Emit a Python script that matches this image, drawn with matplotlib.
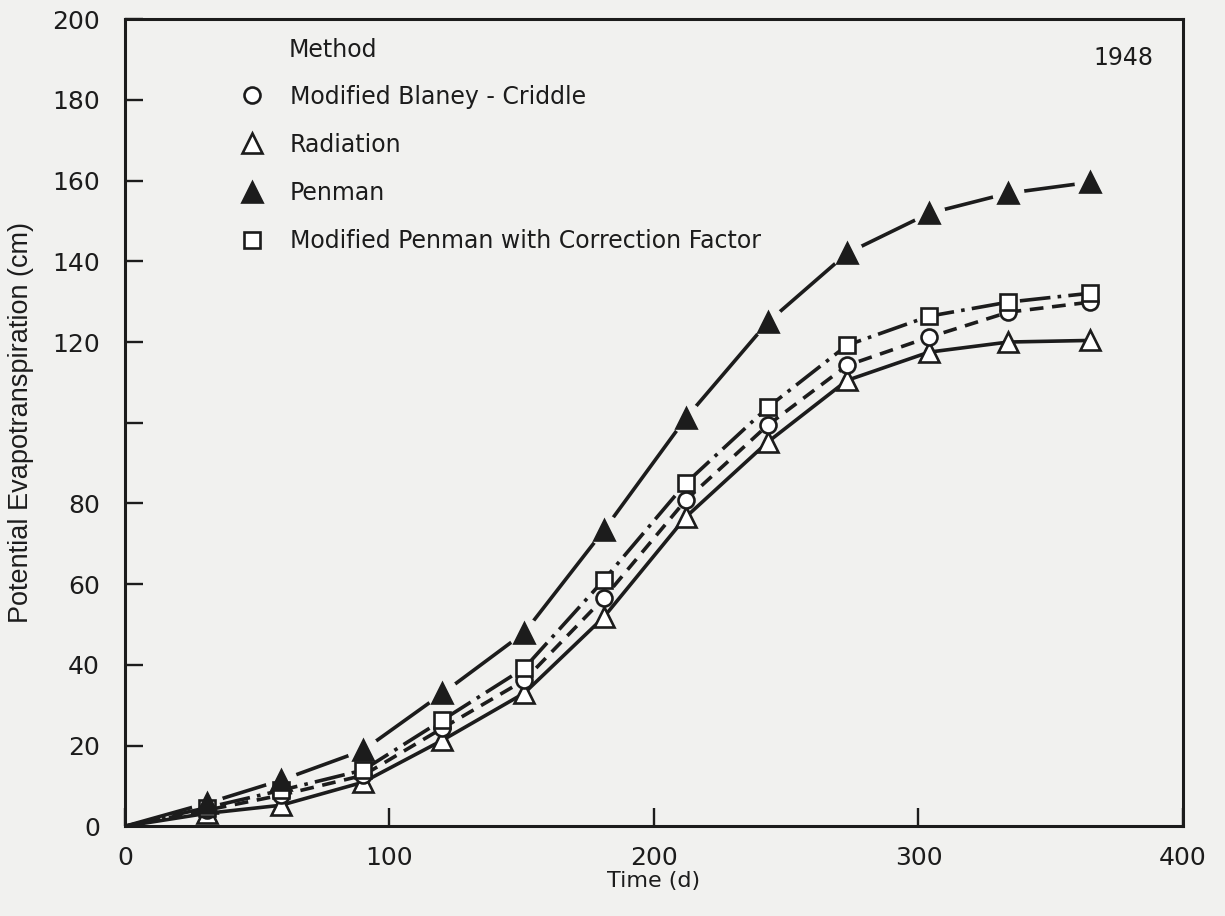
import numpy as np
import matplotlib
matplotlib.use("Agg")
import matplotlib.pyplot as plt
from matplotlib.lines import Line2D

# cumulative potential evapotranspiration, end of each month (1948)
days = [0, 31, 59, 90, 120, 151, 181, 212, 243, 273, 304, 334, 365]
blaney = [0, 4.0, 7.7, 12.6, 24.3, 36.2, 56.5, 80.8, 99.4, 114.2, 121.2, 127.4, 129.9]
radiation = [0, 3.2, 5.2, 10.9, 21.3, 33.0, 51.8, 76.6, 95.2, 110.5, 117.5, 120.0, 120.4]
penman = [0, 5.7, 11.4, 18.8, 32.9, 48.0, 73.3, 101.1, 124.9, 142.0, 151.9, 156.9, 159.6]
mod_penman = [0, 4.6, 8.9, 13.9, 26.3, 39.2, 61.0, 85.0, 103.8, 119.2, 126.4, 129.9, 132.1]

xticks = [0, 100, 200, 300, 400]
yticks = [0, 20, 40, 60, 80, 100, 120, 140, 160, 180, 200]
ytick_labels = ["0", "20", "40", "60", "80", "", "120", "140", "160", "180", "200"]

ink = "#1c1c1c"
bg = "#f1f1ef"
plt.rcParams["font.family"] = "DejaVu Sans"

fig = plt.figure(figsize=(12.25, 9.16), dpi=100, facecolor=bg)
ax = fig.add_axes([0.102, 0.098, 0.8637, 0.881], facecolor=bg)

lw = 2.6
mew = 1.9
pts = slice(1, None)

# Penman: line broken around each marker
ax.plot(days, penman, color=ink, lw=lw, zorder=2, solid_capstyle="butt")
ax.plot(days, penman, ls="none", marker="o", ms=22, mfc=bg, mec=bg,
        markevery=pts, zorder=2.5)
ax.plot(days, radiation, color=ink, lw=lw, zorder=3)
ax.plot(days, blaney, color=ink, lw=lw, ls=(0, (3.8, 2.4)), zorder=3)
ax.plot(days, mod_penman, color=ink, lw=lw, ls=(0, (8.5, 2.0, 1, 2.0)), zorder=3)

ax.plot(days, radiation, ls="none", marker="^", ms=14, mfc="white", mec=ink,
        mew=mew, markevery=pts, zorder=4)
ax.plot(days, blaney, ls="none", marker="o", ms=11.5, mfc="white", mec=ink,
        mew=mew, markevery=pts, zorder=4.1)
ax.plot(days, mod_penman, ls="none", marker="s", ms=11.5, mfc="white", mec=ink,
        mew=mew, markevery=pts, zorder=4.2)
ax.plot(days, penman, ls="none", marker="^", ms=14, mfc=ink, mec=ink,
        mew=mew, markevery=pts, zorder=4.3)

ax.set_xlim(0, 400)
ax.set_ylim(0, 200)
ax.set_xticks(xticks)
ax.set_yticks(yticks)
ax.set_yticklabels(ytick_labels)
ax.tick_params(axis="both", direction="in", length=13, width=1.7, colors=ink,
               labelsize=18, top=False, right=False)
ax.tick_params(axis="y", pad=18)
ax.tick_params(axis="x", pad=14)
for s in ax.spines.values():
    s.set_linewidth(2.2)
    s.set_color(ink)

ax.set_xlabel("Time (d)", fontsize=16, color=ink, labelpad=1)
ax.set_ylabel("Potential Evapotranspiration (cm)", fontsize=19.5, color=ink,
              family=["Liberation Sans Narrow", "Liberation Sans"], labelpad=13)

ax.text(0.155, 0.962, "Method", transform=ax.transAxes, fontsize=17,
        color=ink, va="center", ha="left")
ax.text(0.972, 0.952, "1948", transform=ax.transAxes, fontsize=17,
        color=ink, va="center", ha="right")

handles = [
    Line2D([], [], ls="none", marker="o", ms=11.5, mfc="white", mec=ink, mew=mew),
    Line2D([], [], ls="none", marker="^", ms=14, mfc="white", mec=ink, mew=mew),
    Line2D([], [], ls="none", marker="^", ms=14, mfc=ink, mec=ink, mew=mew),
    Line2D([], [], ls="none", marker="s", ms=11.5, mfc="white", mec=ink, mew=mew),
]
labels = ["Modified Blaney - Criddle", "Radiation", "Penman",
          "Modified Penman with Correction Factor"]
leg = ax.legend(handles, labels, loc="upper left", bbox_to_anchor=(0.107, 0.919),
                frameon=False, fontsize=17, handlelength=1.2, handletextpad=1.0,
                labelspacing=1.02, borderpad=0, borderaxespad=0)
for t in leg.get_texts():
    t.set_color(ink)

fig.savefig("out.png", dpi=100, facecolor=bg)
